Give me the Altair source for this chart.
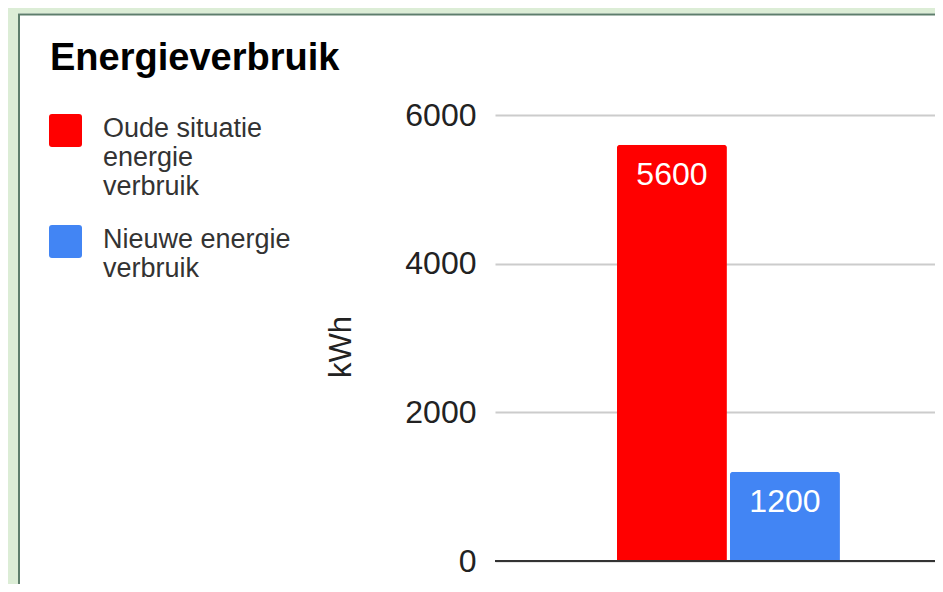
import altair as alt
import pandas as pd

# ---- data ----
series = ["Oude situatie energie verbruik", "Nieuwe energie verbruik"]
values = [5600, 1200]
colors = ["#ff0000", "#4285f4"]
y_ticks = [0, 2000, 4000, 6000]
legend_lines = [["Oude situatie", "energie", "verbruik"], ["Nieuwe energie", "verbruik"]]
chart_title = "Energieverbruik"
y_title = "kWh"

df = pd.DataFrame({"serie": series, "kWh": values})

FONT = "Liberation Sans"
PAGE_BG = "#dcedd6"
BORDER = "#5e7e6c"
TEXT = "#222222"
LEGEND_TEXT = "#333333"

def js_list(items):
    return "[" + ",".join("'" + s + "'" for s in items) + "]"

label_expr = "datum.label == '%s' ? %s : %s" % (
    series[0], js_list(legend_lines[0]), js_list(legend_lines[1]))

# rounded square symbol, drawn slightly above the entry centre so that the
# first text line sits next to the top of the square
sym = ("M -0.82 -1.36 L 0.82 -1.36 Q 1 -1.36 1 -1.18 L 1 0.46 Q 1 0.64 0.82 0.64 "
       "L -0.82 0.64 Q -1 0.64 -1 0.46 L -1 -1.18 Q -1 -1.36 -0.82 -1.36 Z")

x_enc = alt.X("serie:N", sort=series, axis=None,
              scale=alt.Scale(paddingInner=0.027, paddingOuter=0.96, align=0.562))
y_scale = alt.Scale(domain=[0, 6000], nice=False)

bars = alt.Chart().mark_bar(cornerRadiusTopLeft=3, cornerRadiusTopRight=3).encode(
    x=x_enc,
    y=alt.Y("kWh:Q", scale=y_scale,
            axis=alt.Axis(values=y_ticks, title=y_title, format="d",
                          grid=True, gridColor="#cccccc", gridWidth=2,
                          domain=False, ticks=False, labelPadding=19,
                          labelFontSize=32, labelFont=FONT, labelColor=TEXT,
                          titleFontSize=31, titleFont=FONT, titleColor=TEXT,
                          titleFontWeight="normal", titleAngle=-90,
                          titleX=-145, titleY=231.5, titleAlign="center",
                          titleBaseline="alphabetic")),
    color=alt.Color("serie:N", sort=series,
                    scale=alt.Scale(domain=series, range=colors),
                    legend=alt.Legend(title=None, orient="none", legendX=-446, legendY=5,
                                      direction="vertical", symbolType=sym,
                                      symbolSize=1089, symbolStrokeWidth=0,
                                      symbolOpacity=1, labelFontSize=27,
                                      labelFont=FONT, labelColor=LEGEND_TEXT,
                                      labelBaseline="alphabetic", labelOffset=21,
                                      labelExpr=label_expr, labelLimit=400,
                                      rowPadding=25, padding=0)),
)

bar_text = alt.Chart().mark_text(baseline="alphabetic", dy=40, fontSize=32,
                                 font=FONT, color="white").encode(
    x=x_enc,
    y=alt.Y("kWh:Q", scale=y_scale),
    text=alt.Text("kWh:Q", format="d"),
)

zero_line = alt.Chart().mark_rule(color="#333333", strokeWidth=2).encode(
    y=alt.datum(0)
)

deco = alt.Data(values=[{"k": 0}])
left_strip = alt.Chart(deco).mark_rect(color=PAGE_BG).encode(
    x=alt.value(-487), x2=alt.value(-477), y=alt.value(-107), y2=alt.value(480))
top_strip = alt.Chart(deco).mark_rect(color=PAGE_BG).encode(
    x=alt.value(-487), x2=alt.value(460), y=alt.value(-107), y2=alt.value(-101.5))
frame = alt.Chart(deco).mark_rect(fill="transparent", stroke=BORDER, strokeWidth=2).encode(
    x=alt.value(-476), x2=alt.value(700), y=alt.value(-100.5), y2=alt.value(700))

chart = alt.layer(left_strip, top_strip, frame, bars, bar_text, zero_line, data=df).properties(
    width=440,
    height=446,
    autosize=alt.AutoSizeParams(type="none"),
    padding={"left": 487, "top": 107, "right": 0, "bottom": 23},
    background="white",
    title=alt.Title(chart_title, anchor="start", frame="group", fontSize=38,
                    font=FONT, fontWeight="bold", color="#000000",
                    baseline="alphabetic", offset=0, dx=-445, dy=100),
).configure_view(strokeWidth=0)

chart.save("out.html", embed_options={"renderer": "svg", "actions": False})
